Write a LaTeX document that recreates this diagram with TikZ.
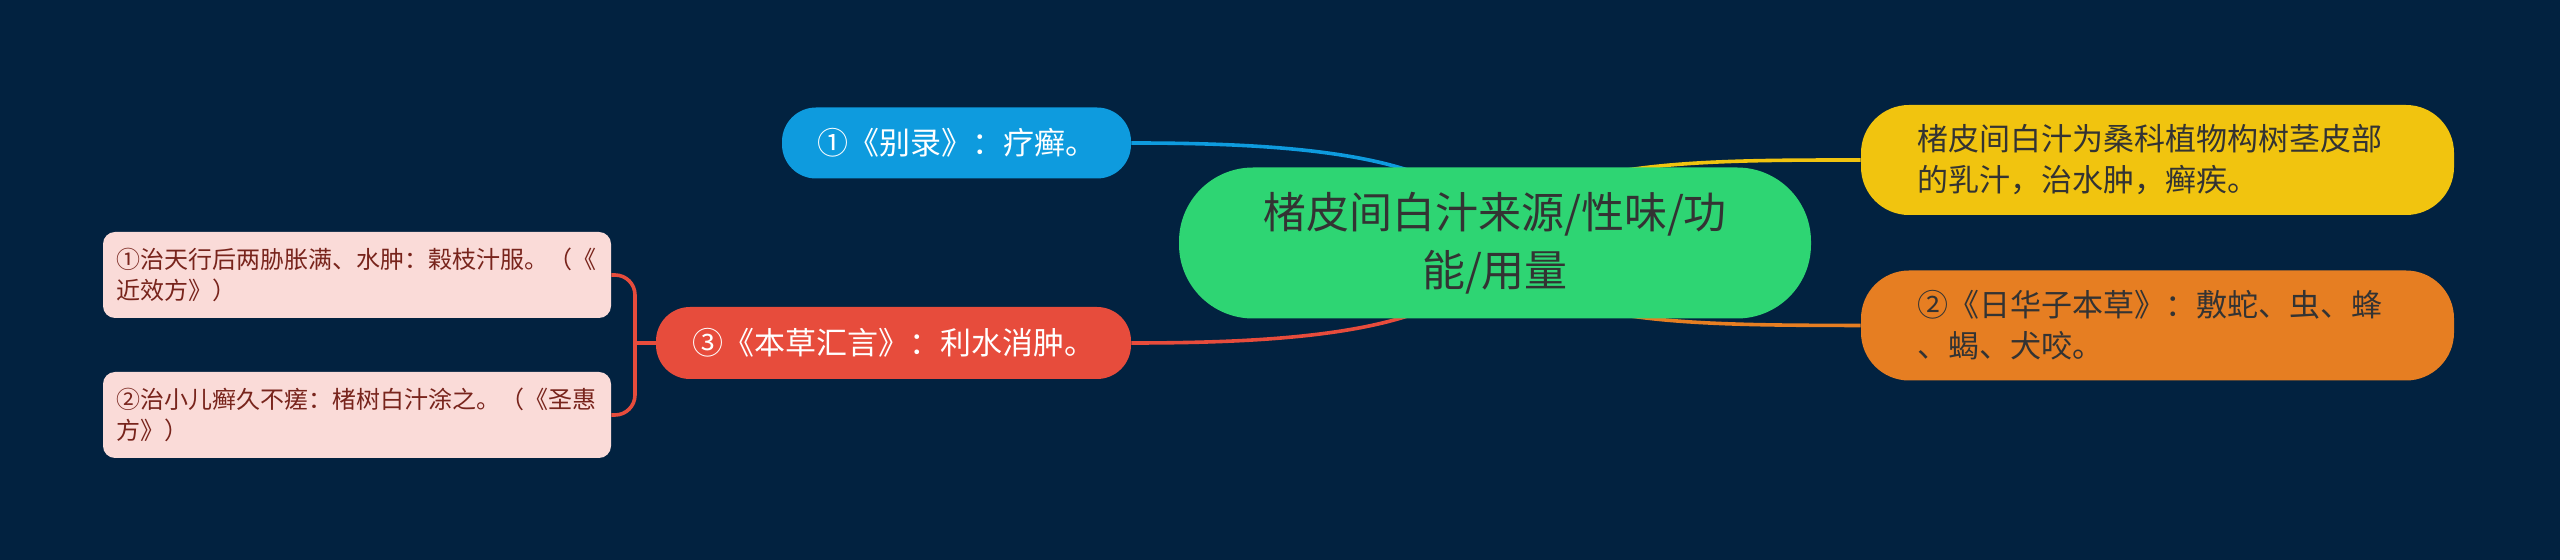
\documentclass[tikz,border=0pt]{standalone}
\usepackage{fontspec}
\setmainfont{Noto Sans CJK SC}
\usetikzlibrary{backgrounds}
\pgfdeclarelayer{canvas}
\pgfsetlayers{canvas,background,main}
\definecolor{navybg}{RGB}{2,34,64}
\definecolor{rootgreen}{RGB}{46,213,115}
\definecolor{topicblue}{RGB}{14,155,222}
\definecolor{topicred}{RGB}{231,76,60}
\definecolor{topicyellow}{RGB}{241,196,15}
\definecolor{topicorange}{RGB}{230,126,34}
\definecolor{leafpink}{RGB}{250,219,216}
\definecolor{leaftext}{RGB}{120,36,28}
\definecolor{darktext}{RGB}{51,51,51}
\tikzset{
  root/.style={fill=rootgreen,text=darktext,align=center,font=\fontsize{21.5}{29}\selectfont,
    minimum width=316pt,minimum height=75.5pt,rounded corners=37pt,inner sep=0pt},
  topic/.style={align=center,font=\fontsize{15.5}{20.5}\selectfont,inner sep=0pt,minimum height=35.5pt,rounded corners=17pt},
  note/.style={align=left,text width=240pt,font=\fontsize{15.5}{20.5}\selectfont,text=darktext,
    minimum width=296.5pt,minimum height=55pt,rounded corners=24pt,inner sep=0pt},
  leaf/.style={fill=leafpink,text=leaftext,align=left,text width=241pt,font=\fontsize{12}{15.5}\selectfont,
    minimum width=254pt,minimum height=43pt,rounded corners=6pt,inner sep=0pt},
  link/.style={line width=1.8pt}
}
\begin{document}
\begin{tikzpicture}[x=0.5pt,y=-0.5pt]
  \useasboundingbox (0,0) rectangle (2560,560);
  \begin{pgfonlayer}{canvas}
    \fill[navybg] (0,0) rectangle (2560,560);
  \end{pgfonlayer}
  %% Nodes
  \node[root] (root) at (1495,243) {楮皮间白汁来源/性味/功\\能/用量};
  \node[topic,fill=topicblue,text=white,minimum width=174.5pt] (bielu) at (956.5,143) {①《别录》：疗癣。};
  \node[topic,fill=topicred,text=white,minimum width=237.5pt,minimum height=36pt] (huiyan) at (893.5,343) {③《本草汇言》：利水消肿。};
  \node[note,fill=topicyellow] (yuanliu) at (2157.5,160) {楮皮间白汁为桑科植物构树茎皮部\\的乳汁，治水肿，癣疾。};
  \node[note,fill=topicorange] (rihua) at (2157.5,325.5) {②《日华子本草》：敷蛇、虫、蜂\\、蝎、犬咬。};
  \node[leaf] (jinxiao) at (357,275) {①治天行后两胁胀满、水肿：榖枝汁服。（《\\近效方》）};
  \node[leaf] (shenghui) at (357,415) {②治小儿癣久不瘥：楮树白汁涂之。（《圣惠\\方》）};
  \coordinate (brace) at (635,343);
  %% Links
  \begin{pgfonlayer}{background}
    \draw[link,topicblue] (root.center) .. controls (1475,155) and (1300,143) .. (bielu.east);
    \draw[link,topicred] (root.center) .. controls (1475,331) and (1300,343) .. (huiyan.east);
    \draw[link,topicyellow] (root.center) .. controls (1525,160) and (1690,160) .. (yuanliu.west);
    \draw[link,topicorange] (root.center) .. controls (1525,326) and (1690,325) .. (rihua.west);
  \end{pgfonlayer}
  \draw[link,topicred] (huiyan.west) -- (brace);
  \draw[link,topicred,rounded corners=10pt] (jinxiao.east) -| (brace) |- (shenghui.east);
\end{tikzpicture}
\end{document}
